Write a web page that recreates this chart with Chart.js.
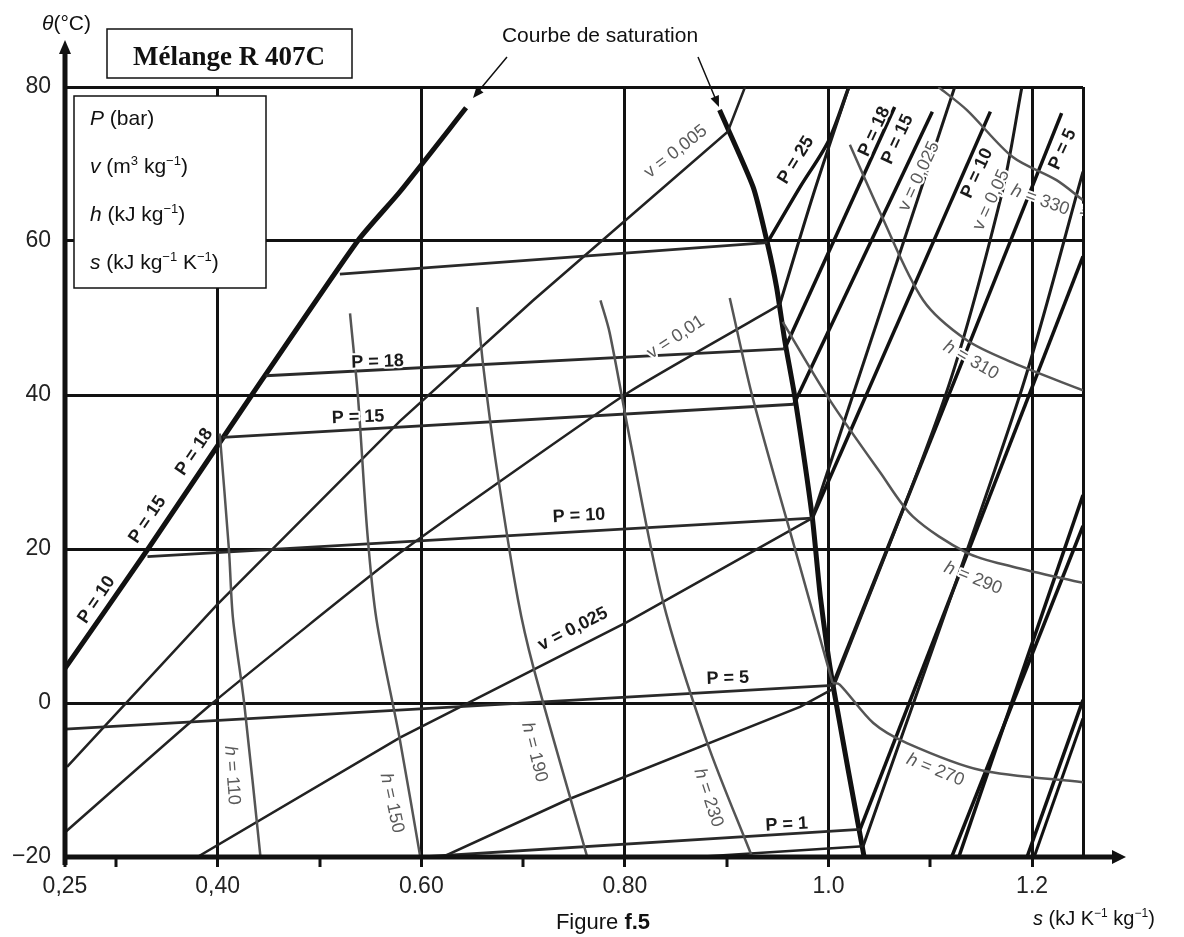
<!DOCTYPE html>
<html>
<head>
<meta charset="utf-8">
<script src="https://cdn.jsdelivr.net/npm/chart.js@4.4.0/dist/chart.umd.min.js"></script>
<style>
  body { margin: 0; background: #fff; }
  #wrap { width: 1184px; height: 937px; }
</style>
</head>
<body>
<div id="wrap"><canvas id="myChart" width="1184" height="937"></canvas></div>
<script>
// axes
var xTickValues = [0.25, 0.30, 0.40, 0.50, 0.60, 0.70, 0.80, 0.90, 1.00, 1.10, 1.20, 1.25];
var xTickText = ['0,25', '', '0,40', '', '0.60', '', '0.80', '', '1.0', '', '1.2', ''];
var xGridValues = [0.40, 0.60, 0.80, 1.00, 1.20, 1.25];
var yTickValues = [-20, 0, 20, 40, 60, 80];
var yTickText = ['\u221220', '0', '20', '40', '60', '80'];

// saturation curve  [s, theta]
var satLiquid = [[0.25, 4.5], [0.332, 20.1], [0.434, 40.1], [0.538, 60.1], [0.579, 66.4], [0.644, 77.3]];
var satVapour = [[0.893, 77.0], [0.926, 67.0], [0.940, 59.7], [0.949, 54.0], [0.957, 47.1], [0.967, 39.7],
                 [0.984, 24.2], [0.992, 13.8], [1.004, 2.6], [1.035, -20]];

// isobars, two-phase part
var p25Liq = [[0.52, 55.7], [0.94, 59.8]];
var p18Liq = [[0.447, 42.5], [0.957, 46.0]];
var p15Liq = [[0.405, 34.5], [0.966, 38.8]];
var p10Liq = [[0.331, 19.0], [0.984, 24.0]];
var p5Liq = [[0.25, -3.4], [1.004, 2.3]];
var p1Liq = [[0.60, -20], [1.031, -16.4]];
// isobars, vapour part
var p25Vap = [[0.94, 59.8], [0.972, 67.0], [1.0, 73.0], [1.02, 80]];
var p18Vap = [[0.957, 46.0], [1.065, 77.4]];
var p15Vap = [[0.966, 38.8], [1.102, 76.8]];
var p10Vap = [[0.984, 24.0], [1.159, 76.8]];
var p5Vap = [[1.004, 2.3], [1.229, 76.6]];
var p1Vap = [[1.031, -16.4], [1.25, 58]];

// isochores
var v005 = [[0.252, -8.3], [0.399, 12.7], [0.579, 36.6], [0.71, 52.3], [0.901, 74.2], [0.918, 80]];
var v01Liq = [[0.25, -16.8], [0.395, 0], [0.579, 19.5], [0.803, 40.3], [0.952, 51.7]];
var v01Vap = [[0.952, 51.7], [0.985, 66], [1.02, 80]];
var v025Liq = [[0.38, -20], [0.579, -4.5], [0.802, 10.5], [0.984, 24.0]];
var v025Vap = [[0.984, 24.0], [1.124, 80]];
var v05Liq = [[0.621, -20], [0.743, -12.6], [0.972, -0.5], [1.004, 1.8]];
var v05Vap = [[1.004, 1.8], [1.115, 40], [1.17, 66], [1.19, 80]];
var v1Liq = [[0.87, -20], [1.034, -18.6]];
var v1Vap = [[1.034, -18.6], [1.188, 40], [1.25, 69]];

// lower pressure lines, right edge
var low1 = [[1.121, -20], [1.25, 23]];
var low2 = [[1.128, -20], [1.25, 27]];
var low3 = [[1.195, -20], [1.25, 0.4]];
var low4 = [[1.202, -20], [1.25, -2]];

// isenthalps
var h110 = [[0.402, 35], [0.411, 20], [0.415, 11], [0.426, 0], [0.442, -20]];
var h150 = [[0.530, 50.6], [0.538, 39.4], [0.547, 22.1], [0.556, 10.8], [0.579, -4.8], [0.599, -20]];
var h190 = [[0.655, 51.4], [0.661, 43.6], [0.674, 30.6], [0.695, 13.4], [0.710, 4.7], [0.763, -20]];
var h230 = [[0.776, 52.3], [0.785, 48.1], [0.805, 34.2], [0.837, 13.4], [0.881, -5.2], [0.925, -20]];
var h270Liq = [[0.903, 52.6], [0.926, 39.4], [0.972, 17.7], [1.004, 2.6]];
var h270Vap = [[1.004, 2.6], [1.011, 2.4], [1.044, -2.6], [1.077, -5.2], [1.149, -8.7], [1.25, -10.3]];
var h290 = [[0.955, 49.5], [1.001, 39.4], [1.051, 29.9], [1.083, 24.2], [1.136, 19.5], [1.181, 17.7], [1.25, 15.6]];
var h310 = [[1.021, 72.5], [1.051, 63.6], [1.093, 52.3], [1.136, 47.1], [1.181, 44.2], [1.25, 40.6]];
var h330 = [[1.108, 80], [1.136, 77.0], [1.181, 70.9], [1.224, 67.9], [1.25, 65.3]];

// curve labels: text, s, theta, angle (deg), bold?
var curveLabels = [
    ['P = 10', 0.281, 13.4, -56, true],
    ['P = 15', 0.331, 23.8, -56, true],
    ['P = 18', 0.377, 32.6, -56, true],
    ['P = 18', 0.557, 44.3, -2, true],
    ['P = 15', 0.538, 37.1, -2, true],
    ['P = 10', 0.755, 24.3, -3, true],
    ['P = 5', 0.901, 3.2, -2, true],
    ['P = 1', 0.959, -15.8, -3, true],
    ['v = 0,025', 0.749, 9.6, -27, true],
    ['v = 0,01', 0.850, 47.5, -33, false],
    ['v = 0,005', 0.850, 71.6, -38, false],
    ['P = 25', 0.968, 70.5, -58, true],
    ['P = 18', 1.045, 74.2, -65, true],
    ['P = 15', 1.068, 73.2, -65, true],
    ['v = 0,025', 1.089, 68.4, -65, false],
    ['P = 10', 1.146, 68.8, -65, true],
    ['v = 0,05', 1.160, 65.3, -65, false],
    ['P = 5', 1.230, 71.9, -65, true],
    ['v = 0,1', 1.262, 66.5, -65, false],
    ['h = 330', 1.208, 65.3, 20, false],
    ['h = 310', 1.140, 44.5, 30, false],
    ['h = 290', 1.142, 16.2, 22, false],
    ['h = 270', 1.105, -8.7, 22, false],
    ['h = 230', 0.882, -12.3, 72, false],
    ['h = 190', 0.711, -6.4, 76, false],
    ['h = 150', 0.571, -13.0, 78, false],
    ['h = 110', 0.414, -9.4, 86, false]
];

var FONT = '"Liberation Sans", Arial, sans-serif';

function pts(arr) {
    return arr.map(function (p) { return { x: p[0], y: p[1] }; });
}
function line(arr, color, width, tension) {
    return {
        data: pts(arr),
        showLine: true,
        fill: false,
        borderColor: color,
        borderWidth: width,
        pointRadius: 0,
        tension: tension || 0
    };
}

var datasets = [
    line(h110, '#555', 2.5, 0.3),
    line(h150, '#555', 2.5, 0.3),
    line(h190, '#555', 2.5, 0.3),
    line(h230, '#555', 2.5, 0.3),
    line(h270Liq, '#555', 2.5, 0.3),
    line(h270Vap, '#555', 2.5, 0.3),
    line(h290, '#555', 2.5, 0.3),
    line(h310, '#555', 2.5, 0.3),
    line(h330, '#555', 2.5, 0.3),
    line(p25Liq, '#2a2a2a', 2.8),
    line(p18Liq, '#2a2a2a', 2.8),
    line(p15Liq, '#2a2a2a', 2.8),
    line(p10Liq, '#2a2a2a', 2.8),
    line(p5Liq, '#2a2a2a', 2.8),
    line(p1Liq, '#2a2a2a', 2.8),
    line(v005, '#222', 2.5),
    line(v01Liq, '#222', 2.5, 0.15),
    line(v025Liq, '#222', 2.5),
    line(v05Liq, '#222', 2.5),
    line(v1Liq, '#222', 2.5),
    line(v01Vap, '#1a1a1a', 3, 0.3),
    line(v025Vap, '#1a1a1a', 3),
    line(v05Vap, '#1a1a1a', 3, 0.3),
    line(v1Vap, '#1a1a1a', 3, 0.3),
    line(p25Vap, '#111', 3.5, 0.3),
    line(p18Vap, '#111', 3.5),
    line(p15Vap, '#111', 3.5),
    line(p10Vap, '#111', 3.5),
    line(p5Vap, '#111', 3.5),
    line(p1Vap, '#111', 3.5),
    line(low1, '#111', 3.5),
    line(low2, '#111', 3.5),
    line(low3, '#111', 3.5),
    line(low4, '#111', 3),
    line(satLiquid, '#111', 5, 0.2),
    line(satVapour, '#111', 5, 0.2)
];

function richText(ctx, segs, x, y, size) {
    var cx = x;
    segs.forEach(function (s) {
        var fs = s.sup ? Math.round(size * 0.62) : size;
        ctx.font = (s.i ? 'italic ' : '') + (s.b ? 'bold ' : '') + fs + 'px ' + FONT;
        ctx.fillText(s.t, cx, s.sup ? y - size * 0.4 : y);
        cx += ctx.measureText(s.t).width;
    });
    return cx;
}
function richWidth(ctx, segs, size) {
    var w = 0;
    segs.forEach(function (s) {
        var fs = s.sup ? Math.round(size * 0.62) : size;
        ctx.font = (s.i ? 'italic ' : '') + (s.b ? 'bold ' : '') + fs + 'px ' + FONT;
        w += ctx.measureText(s.t).width;
    });
    return w;
}
function arrowHead(ctx, x1, y1, x2, y2, len, half) {
    var a = Math.atan2(y2 - y1, x2 - x1);
    ctx.beginPath();
    ctx.moveTo(x2, y2);
    ctx.lineTo(x2 - len * Math.cos(a) + half * Math.sin(a), y2 - len * Math.sin(a) - half * Math.cos(a));
    ctx.lineTo(x2 - len * Math.cos(a) - half * Math.sin(a), y2 - len * Math.sin(a) + half * Math.cos(a));
    ctx.closePath();
    ctx.fill();
}

var decorations = {
    id: 'decorations',
    afterDatasetsDraw: function (chart) {
        var ctx = chart.ctx, xs = chart.scales.x, ys = chart.scales.y, a = chart.chartArea;
        // curve labels
        ctx.save();
        ctx.beginPath();
        ctx.rect(a.left, a.top, a.right - a.left, a.bottom - a.top);
        ctx.clip();
        ctx.textBaseline = 'middle';
        ctx.lineJoin = 'round';
        curveLabels.forEach(function (l) {
            var px = xs.getPixelForValue(l[1]);
            var py = ys.getPixelForValue(l[2]);
            ctx.save();
            ctx.translate(px, py);
            ctx.rotate(l[3] * Math.PI / 180);
            ctx.strokeStyle = '#fff';
            ctx.lineWidth = 4;
            if (l[4]) {
                ctx.textAlign = 'center';
                ctx.font = 'bold 18px ' + FONT;
                ctx.fillStyle = '#1a1a1a';
                ctx.strokeText(l[0], 0, 0);
                ctx.fillText(l[0], 0, 0);
            } else {
                var t = l[0];
                var isH = t.charAt(0) === 'h';
                var rest = isH ? t.slice(1) : t;
                ctx.font = 'italic 18px ' + FONT;
                var wh = isH ? ctx.measureText('h').width : 0;
                ctx.font = '18px ' + FONT;
                var wr = ctx.measureText(rest).width;
                var x0 = -(wh + wr) / 2;
                ctx.textAlign = 'left';
                ctx.fillStyle = '#5a5a5a';
                if (isH) {
                    ctx.font = 'italic 18px ' + FONT;
                    ctx.strokeText('h', x0, 0);
                    ctx.fillText('h', x0, 0);
                }
                ctx.font = '18px ' + FONT;
                ctx.strokeText(rest, x0 + wh, 0);
                ctx.fillText(rest, x0 + wh, 0);
            }
            ctx.restore();
        });
        ctx.restore();
    },
    afterDraw: function (chart) {
        var ctx = chart.ctx, a = chart.chartArea;
        ctx.save();
        ctx.fillStyle = '#111';
        ctx.strokeStyle = '#111';
        // axes with arrows
        ctx.lineWidth = 5;
        ctx.beginPath();
        ctx.moveTo(a.left, a.bottom + 8);
        ctx.lineTo(a.left, 52);
        ctx.stroke();
        arrowHead(ctx, a.left, 100, a.left, 40, 14, 6);
        ctx.beginPath();
        ctx.moveTo(a.left - 2, a.bottom);
        ctx.lineTo(1114, a.bottom);
        ctx.stroke();
        arrowHead(ctx, 1000, a.bottom, 1126, a.bottom, 14, 7);

        // title box
        ctx.lineWidth = 1.5;
        ctx.fillStyle = '#fff';
        ctx.fillRect(107, 29, 245, 49);
        ctx.strokeRect(107, 29, 245, 49);
        ctx.fillStyle = '#111';
        ctx.font = 'bold 27px "Liberation Serif", "Times New Roman", serif';
        ctx.textAlign = 'center';
        ctx.textBaseline = 'alphabetic';
        ctx.fillText('M\u00e9lange R 407C', 229, 65);

        // units box
        ctx.fillStyle = '#fff';
        ctx.fillRect(74, 96, 192, 192);
        ctx.strokeRect(74, 96, 192, 192);
        ctx.fillStyle = '#111';
        ctx.textAlign = 'left';
        richText(ctx, [{ t: 'P', i: true }, { t: ' (bar)' }], 90, 125, 21);
        richText(ctx, [{ t: 'v', i: true }, { t: ' (m' }, { t: '3', sup: true }, { t: ' kg' }, { t: '\u22121', sup: true }, { t: ')' }], 90, 173, 21);
        richText(ctx, [{ t: 'h', i: true }, { t: ' (kJ kg' }, { t: '\u22121', sup: true }, { t: ')' }], 90, 221, 21);
        richText(ctx, [{ t: 's', i: true }, { t: ' (kJ kg' }, { t: '\u22121', sup: true }, { t: ' K' }, { t: '\u22121', sup: true }, { t: ')' }], 90, 269, 21);

        // axis titles
        richText(ctx, [{ t: '\u03b8', i: true }, { t: '(\u00b0C)' }], 42, 30, 21);
        richText(ctx, [{ t: 's', i: true }, { t: ' (kJ K' }, { t: '\u22121', sup: true }, { t: ' kg' }, { t: '\u22121', sup: true }, { t: ')' }], 1033, 925, 20);

        // figure caption
        var cap = [{ t: 'Figure ' }, { t: 'f.5', b: true }];
        var cw = richWidth(ctx, cap, 22);
        richText(ctx, cap, 603 - cw / 2, 929, 22);

        // saturation annotation
        ctx.font = '21px ' + FONT;
        ctx.textAlign = 'center';
        ctx.fillText('Courbe de saturation', 600, 42);
        ctx.lineWidth = 1.5;
        ctx.beginPath();
        ctx.moveTo(507, 57);
        ctx.lineTo(477, 93);
        ctx.moveTo(698, 57);
        ctx.lineTo(716, 100);
        ctx.stroke();
        arrowHead(ctx, 507, 57, 473, 98, 11, 4.5);
        arrowHead(ctx, 698, 57, 719, 107, 11, 4.5);
        ctx.restore();
    }
};

var ctx = document.getElementById('myChart');
var chart = new Chart(ctx, {
    type: 'scatter',
    data: { datasets: datasets },
    options: {
        responsive: false,
        animation: false,
        events: [],
        layout: { padding: { top: 87, right: 101, left: 0, bottom: 0 } },
        plugins: {
            legend: { display: false },
            tooltip: { enabled: false }
        },
        scales: {
            x: {
                type: 'linear',
                min: 0.25,
                max: 1.25,
                afterBuildTicks: function (s) {
                    s.ticks = xTickValues.map(function (v) { return { value: v }; });
                },
                afterFit: function (s) { s.height = 80; },
                border: { display: false },
                grid: {
                    color: '#111',
                    lineWidth: function (c) {
                        return xGridValues.indexOf(c.tick.value) >= 0 ? 3 : 0;
                    },
                    drawTicks: true,
                    tickLength: 10,
                    tickColor: '#111',
                    tickWidth: function (c) { return c.tick.value === 1.25 ? 0 : 3; }
                },
                ticks: {
                    autoSkip: false,
                    maxRotation: 0,
                    minRotation: 0,
                    padding: 6,
                    color: '#222',
                    font: { family: FONT, size: 23 },
                    callback: function (v, i) { return xTickText[i]; }
                }
            },
            y: {
                type: 'linear',
                min: -20,
                max: 80,
                afterBuildTicks: function (s) {
                    s.ticks = yTickValues.map(function (v) { return { value: v }; });
                },
                afterFit: function (s) { s.width = 65; },
                border: { display: false },
                grid: {
                    color: '#111',
                    lineWidth: function (c) { return c.tick.value === -20 ? 0 : 3; },
                    drawTicks: false
                },
                ticks: {
                    padding: 14,
                    color: '#222',
                    font: { family: FONT, size: 23 },
                    callback: function (v, i) { return yTickText[i]; }
                }
            }
        }
    },
    plugins: [decorations]
});
</script>
</body>
</html>
